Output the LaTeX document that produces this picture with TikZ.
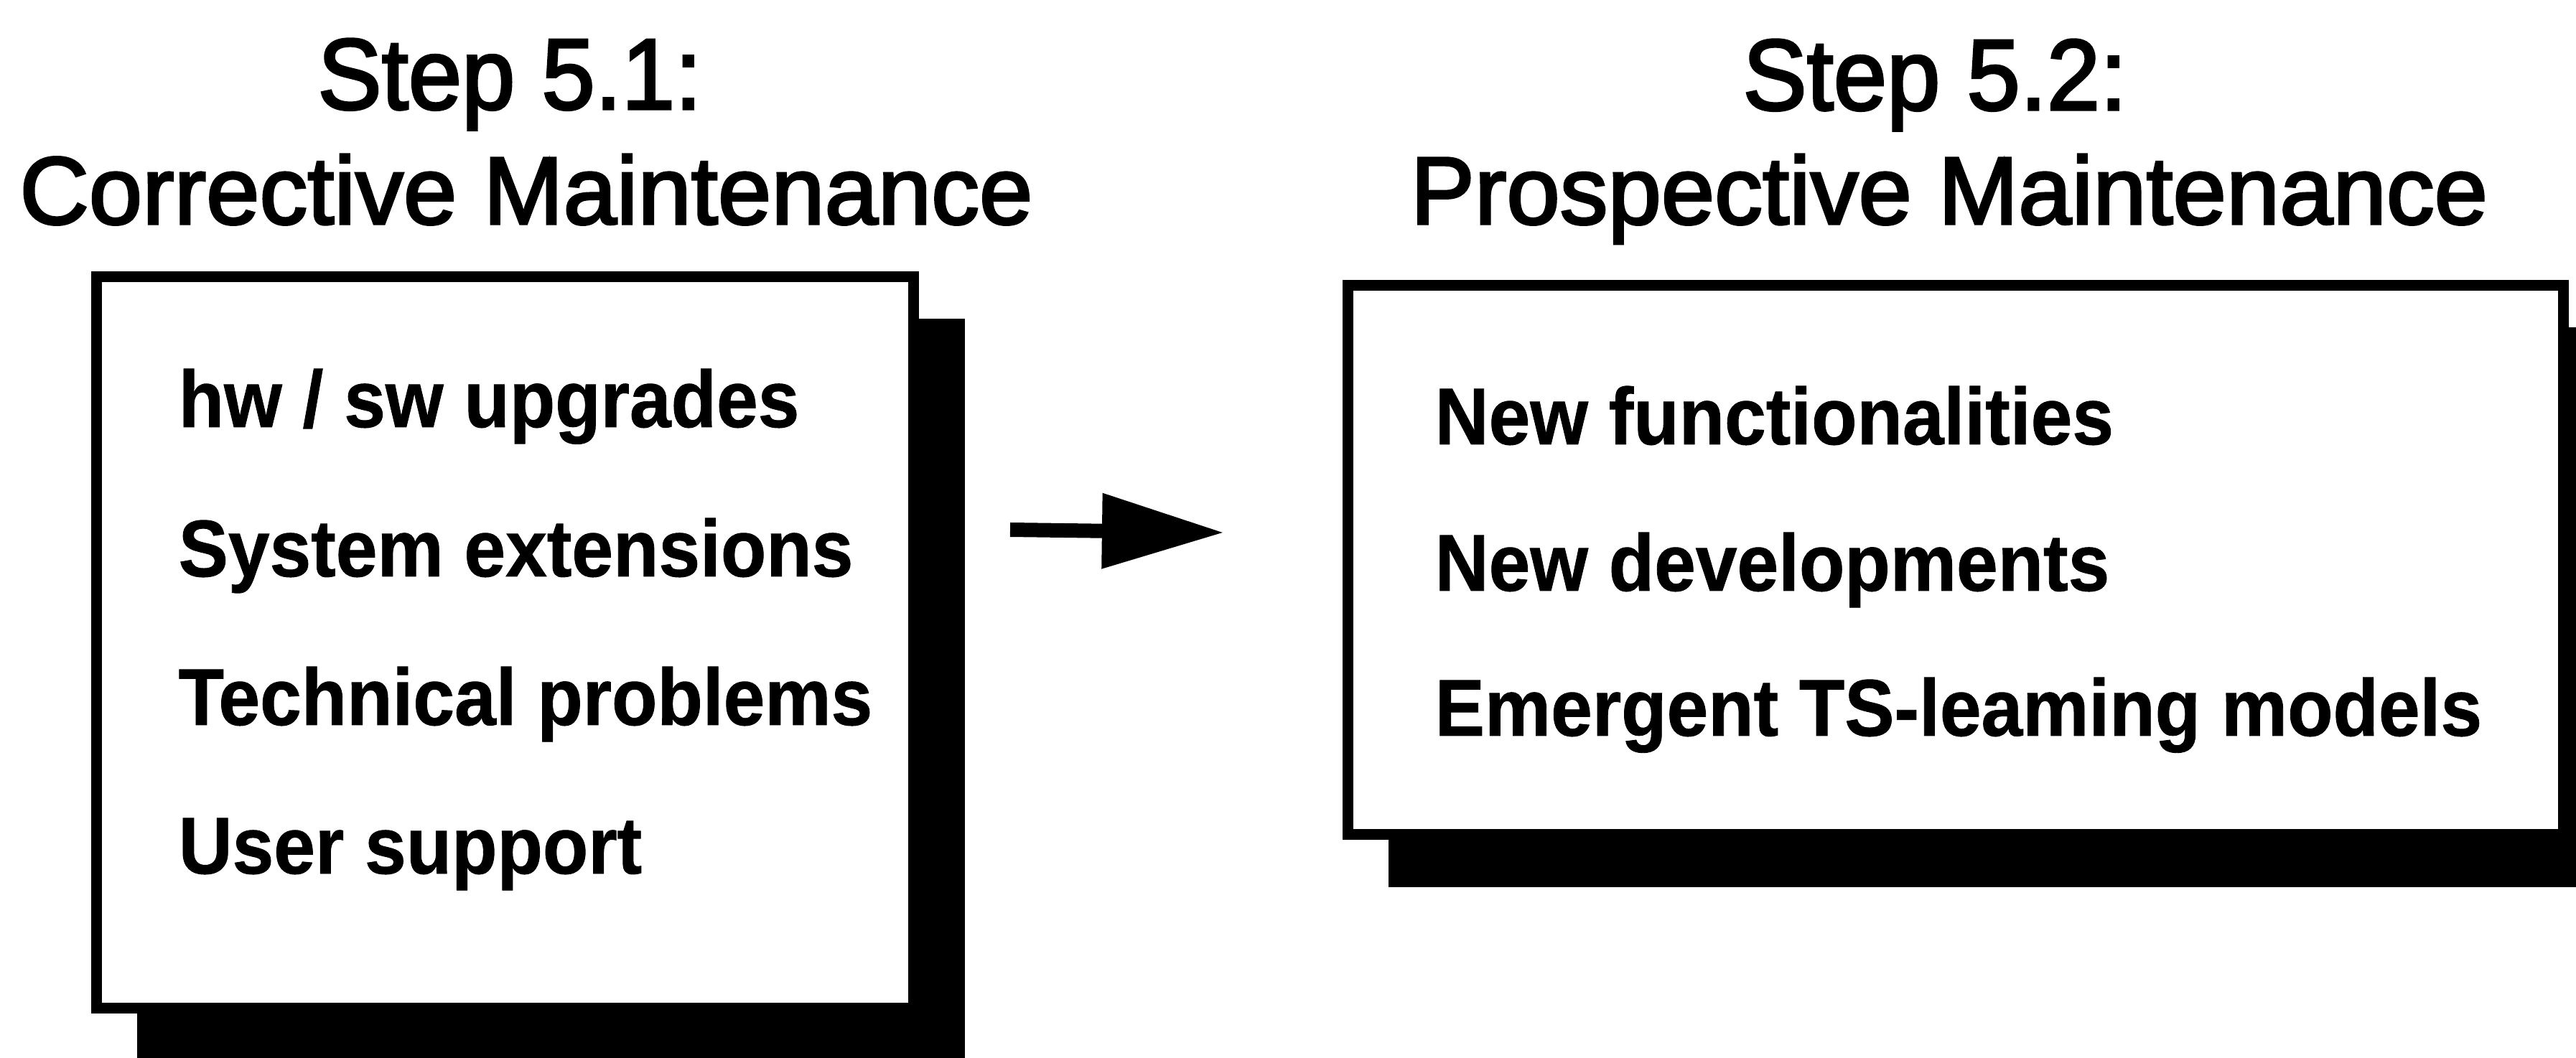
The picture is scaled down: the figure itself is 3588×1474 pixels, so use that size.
\documentclass[tikz,border=0pt]{standalone}
\usepackage{fontspec}
\setmainfont{Liberation Sans}
\newfontfamily\titlefont{Liberation Sans}[FakeBold=2.5]
\newfontfamily\itemfont{Liberation Sans}[FakeBold=0.8]
\usetikzlibrary{arrows.meta}
\begin{document}
\begin{tikzpicture}[x=0.01cm,y=-0.01cm,
  box/.style={draw=black, fill=white, line width=0.15cm, rectangle, inner sep=0pt},
  shadowfill/.style={fill=black},
  title/.style={anchor=base, inner sep=0pt, font=\titlefont\fontsize{38pt}{40pt}\selectfont},
  item/.style={anchor=base west, inner sep=0pt, font=\itemfont\bfseries\fontsize{29.5pt}{30pt}\selectfont},
  flow/.style={line width=0.2cm, -{Triangle[length=1.7cm,width=1cm]}}]
\useasboundingbox (0,0) rectangle (3588,1474);
% shadows
\fill[shadowfill] (191,444) rectangle (1344,1474);
\fill[shadowfill] (1934,456) rectangle (3588,1236);
% boxes
\node[box, minimum width=11.38cm, minimum height=10.19cm] (lbox) at (703.5,895) {};
\node[box, minimum width=16.92cm, minimum height=7.65cm] (rbox) at (2723.5,780) {};
% titles
\node[title] (t1a) at (710,152) {\scalebox{1}[1.05]{Step 5.1:}};
\node[title] (t1b) at (733,312) {Corrective Maintenance};
\node[title] (t2a) at (2695,153) {\scalebox{1}[1.05]{Step 5.2:}};
\node[title] (t2b) at (2715,312) {Prospective Maintenance};
% left items
\node[item] (l1) at (248,595) {\scalebox{1}[1.08]{hw / sw upgrades}};
\node[item] (l2) at (248,803) {\scalebox{1}[1.08]{System extensions}};
\node[item] (l3) at (248,1010) {\scalebox{1}[1.08]{Technical problems}};
\node[item] (l4) at (248,1217) {\scalebox{1}[1.08]{User support}};
% right items
\node[item] (r1) at (1998,619) {\scalebox{1}[1.08]{New functionalities}};
\node[item] (r2) at (1998,823) {\scalebox{1}[1.08]{New developments}};
\node[item] (r3) at (1998,1025) {\scalebox{1}[1.08]{Emergent TS-leaming models}};
% arrow
\coordinate (a1) at (1407,738);
\coordinate (a2) at (1705,742);
\draw[flow] (a1) -- (a2);
\end{tikzpicture}
\end{document}
